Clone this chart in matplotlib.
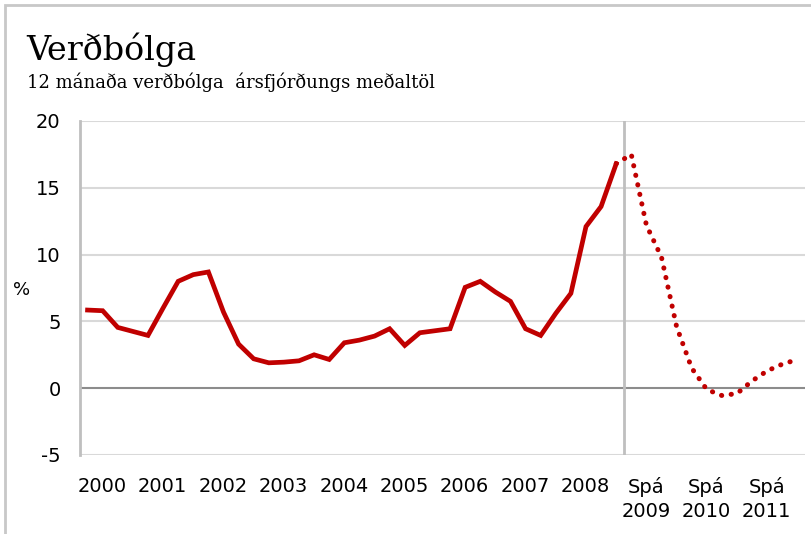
import numpy as np
import matplotlib.pyplot as plt
import matplotlib.transforms as mtransforms
from matplotlib.patches import Rectangle

# Ársfjórðungsgögn 2000-2008 (rauntölur)
actual = [5.85, 5.8, 4.55, 4.25, 3.95, 6.0, 8.0, 8.5, 8.7, 5.7, 3.3, 2.2,
          1.9, 1.95, 2.05, 2.5, 2.15, 3.4, 3.6, 3.9, 4.45, 3.2, 4.15, 4.3,
          4.45, 7.55, 8.0, 7.2, 6.5, 4.45, 3.95, 5.6, 7.1, 12.1, 13.6, 16.8]
# Spá 2009-2011 (byrjar á síðasta raungildi)
forecast = [16.8, 17.5, 12.2, 9.8, 4.6, 1.5, -0.1, -0.55, -0.4, 0.55, 1.3, 1.8, 2.15]
year_labels = ['2000', '2001', '2002', '2003', '2004', '2005', '2006', '2007', '2008',
               'Spá\n2009', 'Spá\n2010', 'Spá\n2011']
yticks = [-5, 0, 5, 10, 15, 20]

red = '#C00000'
fig = plt.figure(figsize=(8.11, 5.34), dpi=100)
fig.patches.append(Rectangle((5 / 811, -0.1), 1.2, 1 - 5 / 534 + 0.1, transform=fig.transFigure,
                             fill=False, edgecolor='#c8c8c8', linewidth=2))
ax = fig.add_axes([80 / 811, 1 - 455 / 534, 725 / 811, 334 / 534])

x_act = np.arange(len(actual)) + 0.5
x_fc = np.arange(len(forecast)) + len(actual) - 0.5

for v in yticks:
    if v == 0:
        ax.axhline(v, color='#8c8c8c', lw=1.5, zorder=1)
    else:
        ax.axhline(v, color='#d9d9d9', lw=1.5, zorder=1)
ax.axvline(len(actual), color='#bfbfbf', lw=2, zorder=1)

ax.plot(x_act, actual, color=red, lw=3.4, solid_joinstyle='miter', zorder=3)
ax.plot(x_fc, forecast, color=red, lw=3.6, linestyle=(0, (0.05, 1.9)),
        dash_capstyle='round', zorder=3)

ax.set_xlim(0, 48)
ax.set_ylim(-5, 20)
ax.set_yticks(yticks)
ax.set_yticklabels([str(v) for v in yticks], fontsize=14)
ax.set_xticks([4 * k + 2 for k in range(len(year_labels))])
ax.set_xticklabels(year_labels, fontsize=14, va='top', linespacing=1.3)
ax.tick_params(length=0, pad=16, axis='x')
ax.tick_params(length=0, pad=14, axis='y')
shift = mtransforms.ScaledTranslation(-8 / 100, 0, fig.dpi_scale_trans)
for lbl in ax.get_xticklabels():
    lbl.set_transform(lbl.get_transform() + shift)
for s in ['top', 'right', 'bottom']:
    ax.spines[s].set_visible(False)
ax.spines['left'].set_color('#bfbfbf')
ax.spines['left'].set_linewidth(2)

fig.text(22 / 811, 1 - 290 / 534, '%', fontsize=13, ha='center', va='center')
fig.text(26 / 811, 1 - 50 / 534, 'Verðbólga', fontsize=24, family='DejaVu Serif',
         ha='left', va='center')
fig.text(27 / 811, 1 - 82 / 534, '12 mánaða verðbólga  ársfjórðungs meðaltöl', fontsize=13,
         family='DejaVu Serif', ha='left', va='center')

fig.savefig('out.png', dpi=100)
